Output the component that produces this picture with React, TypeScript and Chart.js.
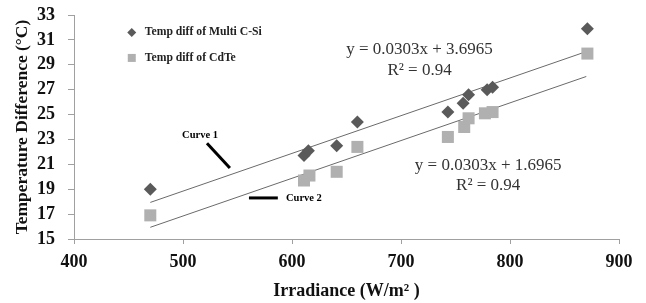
import React, { useEffect, useRef } from "react";
import { Chart, registerables } from "chart.js";
Chart.register(...registerables);

const irrSi = [470, 611, 615, 641, 660, 743, 757, 762, 779, 784, 871];
const tempSi = [19.0, 21.7, 22.1, 22.5, 24.4, 25.2, 25.9, 26.6, 27.0, 27.2, 31.9];
const irrCdTe = [470, 611, 616, 641, 660, 743, 758, 762, 777, 784, 871];
const tempCdTe = [16.9, 19.7, 20.1, 20.4, 22.4, 23.2, 24.0, 24.7, 25.1, 25.2, 29.9];
const trendX = [470, 870];
const trendSi = [17.94, 30.06];
const trendCdTe = [15.94, 28.06];
const xTickValues = [400, 500, 600, 700, 800, 900];
const yTickValues = [15, 17, 19, 21, 23, 25, 27, 29, 31, 33];
const legendLabels = ["Temp diff of Multi C-Si", "Temp diff of CdTe"];
const eqSi = ["y = 0.0303x + 3.6965", "R\u00B2 = 0.94"];
const eqCdTe = ["y = 0.0303x + 1.6965", "R\u00B2 = 0.94"];

const SI_COLOR = "#5a5a5a";
const CD_COLOR = "#b0b0b0";
const SERIF = "'Liberation Serif', 'Times New Roman', serif";

const annotate = {
  id: "annotate",
  afterDatasetsDraw(chart: any) {
    const { ctx, scales } = chart;
    const x = scales.x;
    const y = scales.y;
    const px = (v: number) => x.getPixelForValue(v);
    const py = (v: number) => y.getPixelForValue(v);
    ctx.save();
    // legend
    const lx = px(453);
    const ly1 = py(31.6);
    const ly2 = py(29.55);
    ctx.fillStyle = SI_COLOR;
    ctx.beginPath();
    ctx.moveTo(lx, ly1 - 4.5);
    ctx.lineTo(lx + 4.5, ly1);
    ctx.lineTo(lx, ly1 + 4.5);
    ctx.lineTo(lx - 4.5, ly1);
    ctx.closePath();
    ctx.fill();
    ctx.fillStyle = CD_COLOR;
    ctx.fillRect(lx - 4, ly2 - 4, 8, 8);
    ctx.fillStyle = "#222";
    ctx.font = `bold 11.7px ${SERIF}`;
    ctx.textBaseline = "middle";
    ctx.textAlign = "left";
    ctx.fillText(legendLabels[0], lx + 13, ly1);
    ctx.fillText(legendLabels[1], lx + 13, ly2);

    // Curve labels
    ctx.font = `bold 10.5px ${SERIF}`;
    ctx.fillStyle = "#000";
    ctx.textAlign = "center";
    ctx.fillText("Curve 1", px(515.6), py(23.35));
    ctx.textAlign = "left";
    ctx.fillText("Curve 2", px(594.5), py(18.3));
    ctx.strokeStyle = "#000";
    ctx.lineWidth = 3;
    ctx.beginPath();
    ctx.moveTo(px(522), py(22.7));
    ctx.lineTo(px(543), py(20.7));
    ctx.stroke();
    ctx.beginPath();
    ctx.moveTo(px(560.5), py(18.3));
    ctx.lineTo(px(587), py(18.3));
    ctx.stroke();

    // equations
    ctx.fillStyle = "#333";
    ctx.font = `17px ${SERIF}`;
    ctx.textAlign = "center";
    ctx.fillText(eqSi[0], px(717), py(30.2));
    ctx.fillText(eqSi[1], px(717), py(28.5));
    ctx.fillText(eqCdTe[0], px(780), py(20.9));
    ctx.fillText(eqCdTe[1], px(780), py(19.3));
    ctx.restore();
  },
};

export default function App() {
  const ref = useRef<HTMLCanvasElement>(null);
  useEffect(() => {
    document.body.style.margin = "0";
    const canvas = ref.current!;
    const chart = new Chart(canvas, {
      type: "scatter",
      data: {
        datasets: [
          {
            label: legendLabels[0],
            data: irrSi.map((v, i) => ({ x: v, y: tempSi[i] })),
            pointStyle: "rectRot",
            pointRadius: 6.5,
            backgroundColor: SI_COLOR,
            borderColor: SI_COLOR,
            borderWidth: 0,
          },
          {
            label: legendLabels[1],
            data: irrCdTe.map((v, i) => ({ x: v, y: tempCdTe[i] })),
            pointStyle: "rect",
            pointRadius: 8.5,
            backgroundColor: CD_COLOR,
            borderColor: CD_COLOR,
            borderWidth: 0,
          },
          {
            type: "line",
            label: "trend1",
            data: trendX.map((v, i) => ({ x: v, y: trendSi[i] })),
            borderColor: "#6a6a6a",
            borderWidth: 1,
            pointRadius: 0,
            showLine: true,
          } as any,
          {
            type: "line",
            label: "trend2",
            data: trendX.map((v, i) => ({ x: v, y: trendCdTe[i] })),
            borderColor: "#6a6a6a",
            borderWidth: 1,
            pointRadius: 0,
            showLine: true,
          } as any,
        ],
      },
      options: {
        animation: false,
        responsive: false,
        layout: { padding: { left: 0, right: 27, top: 15, bottom: 0 } },
        plugins: { legend: { display: false }, tooltip: { enabled: false } },
        scales: {
          x: {
            type: "linear",
            min: 400,
            max: 900,
            afterBuildTicks: (s: any) => {
              s.ticks = xTickValues.map((v) => ({ value: v }));
            },
            afterFit: (s: any) => {
              s.height = 64;
              s.paddingLeft = 0;
              s.paddingRight = 0;
              s.paddingTop = 0;
              s.paddingBottom = 0;
            },
            border: { color: "#a0a0a0", width: 1 },
            grid: { drawOnChartArea: false, drawTicks: true, tickLength: 5, color: "#a0a0a0" },
            ticks: {
              autoSkip: false,
              maxRotation: 0,
              padding: 8,
              color: "#111",
              font: { family: SERIF, size: 18, weight: "bold" },
            },
            title: {
              display: true,
              text: "Irradiance (W/m\u00B2 )",
              color: "#111",
              font: { family: SERIF, size: 18, weight: "bold" },
              padding: { top: 0, bottom: 1 },
            },
          },
          y: {
            type: "linear",
            min: 15,
            max: 33,
            afterBuildTicks: (s: any) => {
              s.ticks = yTickValues.map((v) => ({ value: v }));
            },
            afterFit: (s: any) => {
              s.width = 74;
              s.paddingLeft = 0;
              s.paddingRight = 0;
              s.paddingTop = 0;
              s.paddingBottom = 0;
            },
            border: { color: "#a0a0a0", width: 1 },
            grid: { drawOnChartArea: false, drawTicks: true, tickLength: 6, color: "#a0a0a0" },
            ticks: {
              autoSkip: false,
              padding: 13,
              color: "#111",
              font: { family: SERIF, size: 18, weight: "bold" },
            },
            title: {
              display: true,
              text: "Temperature Difference (\u00B0C)",
              color: "#111",
              font: { family: SERIF, size: 17.5, weight: "bold" },
              padding: { top: 12, bottom: 0 },
            },
          },
        },
      },
      plugins: [annotate],
    } as any);
    return () => chart.destroy();
  }, []);
  return <canvas ref={ref} width={646} height={303} style={{ display: "block" }} />;
}
